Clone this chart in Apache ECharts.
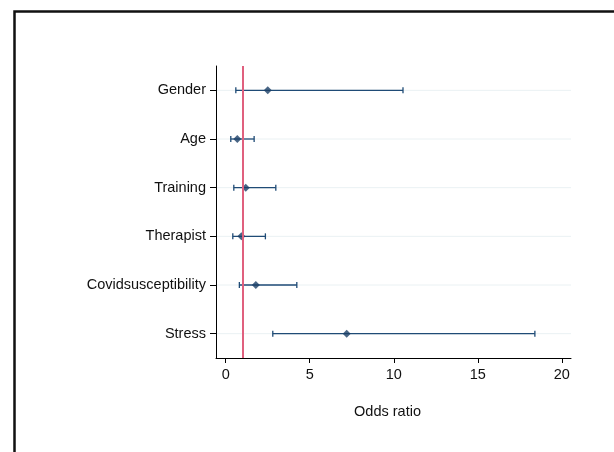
<!DOCTYPE html>
<html>
<head>
<meta charset="utf-8">
<script src="https://cdn.jsdelivr.net/npm/echarts@6/dist/echarts.min.js"></script>
<style>html,body{margin:0;padding:0;background:#fff}#c{width:614px;height:452px}</style>
</head>
<body>
<div id="c"></div>
<script>
var categories = ['Gender', 'Age', 'Training', 'Therapist', 'Covidsusceptibility', 'Stress'];
var oddsRatio = [2.5, 0.69, 1.19, 0.93, 1.79, 7.2];
var ciLow = [0.6, 0.30, 0.48, 0.42, 0.81, 2.8];
var ciHigh = [10.55, 1.69, 2.98, 2.36, 4.23, 18.4];
var xTicks = [0, 5, 10, 15, 20];
var refValue = 1;
var xTitle = 'Odds ratio';

var navy = '#1f4b76';
var chart = echarts.init(document.getElementById('c'), null, {renderer: 'canvas'});

var ciData = categories.map(function (c, i) { return [i, ciLow[i], ciHigh[i]]; });
var pointData = categories.map(function (c, i) { return [oddsRatio[i], c]; });
var gridData = categories.map(function (c, i) { return [i]; });

chart.setOption({
  animation: false,
  backgroundColor: '#fff',
  textStyle: {fontFamily: 'Liberation Sans, Arial, sans-serif'},
  graphic: [{
    type: 'rect', left: 12, top: 9, z: -1,
    shape: {width: 640, height: 480},
    style: {fill: 'none', stroke: '#111', lineWidth: 2.5}
  }],
  grid: {left: 216, right: 43, top: 66, bottom: 94},
  xAxis: {
    type: 'value', min: -0.58, max: 20.55,
    axisLine: {show: true, onZero: false, lineStyle: {color: '#000', width: 1}},
    axisTick: {show: true, length: 5, lineStyle: {color: '#000'}, customValues: xTicks},
    axisLabel: {color: '#111', fontSize: 14.5, margin: 9, customValues: xTicks},
    splitLine: {show: false},
    name: xTitle, nameLocation: 'middle', nameGap: 46,
    nameTextStyle: {color: '#111', fontSize: 14.5, padding: [0, 12, 0, 0]}
  },
  yAxis: {
    type: 'category', data: categories, inverse: true, boundaryGap: true,
    axisLine: {show: true, onZero: false, lineStyle: {color: '#000', width: 1}},
    axisTick: {show: true, alignWithLabel: true, length: 6, lineStyle: {color: '#000'}},
    axisLabel: {color: '#111', fontSize: 14.5, margin: 10},
    splitLine: {show: false}
  },
  series: [{
    type: 'custom',
    data: gridData,
    encode: {y: 0},
    silent: true,
    renderItem: function (params, api) {
      var p = api.coord([0, api.value(0)]);
      var cs = params.coordSys;
      return {type: 'line', shape: {x1: cs.x + 1, y1: p[1], x2: cs.x + cs.width, y2: p[1]},
        style: {stroke: '#eaf1f3', lineWidth: 1}};
    },
    z: 0
  }, {
    type: 'custom',
    data: ciData,
    encode: {x: [1, 2], y: 0},
    renderItem: function (params, api) {
      var yi = api.value(0);
      var lo = api.coord([api.value(1), yi]);
      var hi = api.coord([api.value(2), yi]);
      var h = 3;
      var st = {stroke: navy, lineWidth: 1.3};
      return {
        type: 'group',
        children: [
          {type: 'line', shape: {x1: lo[0], y1: lo[1], x2: hi[0], y2: hi[1]}, style: st},
          {type: 'line', shape: {x1: lo[0], y1: lo[1] - h, x2: lo[0], y2: lo[1] + h}, style: st},
          {type: 'line', shape: {x1: hi[0], y1: hi[1] - h, x2: hi[0], y2: hi[1] + h}, style: st}
        ]
      };
    },
    z: 2
  }, {
    type: 'scatter',
    data: pointData,
    symbol: 'diamond',
    symbolSize: [8, 8],
    itemStyle: {color: '#1a3f66'},
    z: 4,
    markLine: {
      silent: true, symbol: 'none', label: {show: false},
      lineStyle: {color: '#e0607e', width: 2, type: 'solid'},
      data: [{xAxis: refValue}]
    }
  }]
});
</script>
</body>
</html>
